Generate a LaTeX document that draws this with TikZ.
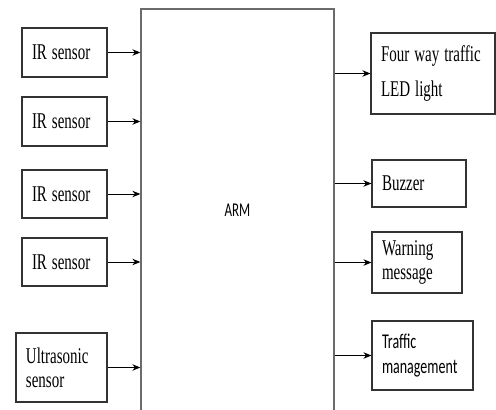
\documentclass[tikz,border=0pt]{standalone}
\usepackage{fontspec}
\usepackage{graphicx}
\setmainfont{Liberation Serif}
\newfontfamily\timesfont{Liberation Serif}
\newfontfamily\calibri{Carlito}
\usepackage{tikz}
\usetikzlibrary{positioning, arrows.meta}
\definecolor{BoxLine}{HTML}{333333}
\definecolor{ArmLine}{HTML}{6B6B6B}
\newcommand{\tall}[1]{\scalebox{1}[1.5]{#1}}

\begin{document}
\begin{tikzpicture}[x=1pt, y=-1pt,
    blk/.style={draw=BoxLine, line width=1.1pt, rectangle, inner xsep=10pt, inner ysep=0pt,
      align=left, font=\timesfont\fontsize{15}{24}\selectfont},
    sans/.style={font=\calibri\fontsize{14}{25}\selectfont},
    arr/.style={draw=black, line width=1pt, -{Stealth[length=8pt, width=6.5pt]}}]
      \clip (0,0) rectangle (496,410);
      % Controller
      \node[draw=ArmLine, line width=1.3pt, minimum width=193pt, minimum height=411pt,
        font=\calibri\fontsize{13}{14}\selectfont] (arm) at (237.5,214.5) {\raisebox{8pt}{\tall{ARM}}};
      % Inputs
      \node[blk, text width=65pt, minimum height=49pt] (ir1) at (64.5,52.5) {\tall{IR sensor}};
      \node[blk, text width=65pt, minimum height=49pt] (ir2) at (64.5,121.5) {\tall{IR sensor}};
      \node[blk, text width=65pt, minimum height=48pt] (ir3) at (64.5,194) {\tall{IR sensor}};
      \node[blk, text width=65pt, minimum height=48pt] (ir4) at (64.5,262) {\tall{IR sensor}};
      \node[blk, text width=71pt, minimum height=69pt] (us) at (61.5,367.5) {\tall{Ultrasonic}\\\tall{sensor}};
      % Outputs
      \node[blk, text width=104pt, minimum height=81pt, font=\timesfont\fontsize{15}{35}\selectfont]
        (four) at (433,73.5) {\tall{Four way traffic}\\\tall{LED light}};
      \node[blk, text width=74pt, minimum height=47pt] (buzz) at (419,183.5) {\tall{Buzzer}};
      \node[blk, text width=70pt, minimum height=61pt] (warn) at (417,262.5) {\tall{Warning}\\\tall{message}};
      \node[blk, sans, text width=81pt, minimum height=69pt] (traf) at (422.5,355.5) {\tall{Traffic}\\\tall{management}};
      % Links
      \foreach \n in {ir1, ir2, ir3, ir4, us}
        \draw[arr] (\n.east) -- (\n.east -| arm.west);
      \foreach \n in {four, buzz, warn, traf}
        \draw[arr] (arm.east |- \n.west) -- (\n.west);
    \end{tikzpicture}
\end{document}
